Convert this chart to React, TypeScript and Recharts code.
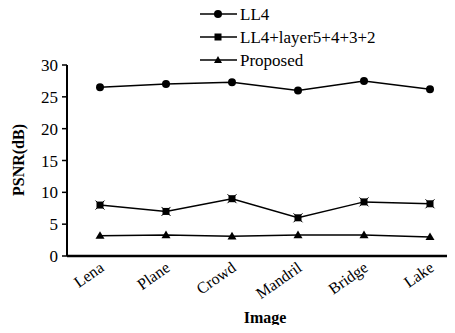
import React from 'react';
import { LineChart, Line, XAxis, YAxis } from 'recharts';

const images = ['Lena', 'Plane', 'Crowd', 'Mandril', 'Bridge', 'Lake'];
const ll4 = [26.5, 27.0, 27.3, 26.0, 27.5, 26.2];
const ll4Layers = [8.0, 7.0, 9.0, 6.0, 8.5, 8.2];
const proposed = [3.2, 3.3, 3.1, 3.3, 3.3, 3.0];
const yTicks = [0, 5, 10, 15, 20, 25, 30];
const seriesNames = ['LL4', 'LL4+layer5+4+3+2', 'Proposed'];

const data = images.map((name, i) => ({
  name,
  ll4: ll4[i],
  layers: ll4Layers[i],
  proposed: proposed[i],
}));

const FONT = 'Liberation Serif';

const CircleDot = (p: any) => {
  if (p.cx == null || p.cy == null) return null;
  return <circle key={p.key} cx={p.cx} cy={p.cy} r={4} fill="#000" />;
};
const SquareDot = (p: any) => {
  if (p.cx == null || p.cy == null) return null;
  const s = 3.5;
  return (
    <g key={p.key}>
      <rect x={p.cx - s} y={p.cy - s} width={s * 2} height={s * 2} fill="#000" />
      <path d={`M${p.cx - s - 1},${p.cy - s - 1}L${p.cx + s + 1},${p.cy + s + 1}M${p.cx + s + 1},${p.cy - s - 1}L${p.cx - s - 1},${p.cy + s + 1}`} stroke="#000" strokeWidth={1} />
    </g>
  );
};
const TriDot = (p: any) => {
  if (p.cx == null || p.cy == null) return null;
  const s = 4.5;
  return (
    <path
      key={p.key}
      d={`M${p.cx},${p.cy - s}L${p.cx + s},${p.cy + s * 0.7}L${p.cx - s},${p.cy + s * 0.7}Z`}
      fill="#000"
    />
  );
};

const XTick = (props: any) => {
  const { x, y, payload } = props;
  const ax = x + 5;
  const ay = y + 14;
  return (
    <text
      x={ax}
      y={ay}
      transform={`rotate(-35, ${ax}, ${ay})`}
      textAnchor="end"
      fontFamily={FONT}
      fontSize={16}
      fill="#000"
    >
      {payload.value}
    </text>
  );
};

const YTick = (props: any) => {
  const { x, y, payload } = props;
  return (
    <text x={x - 2} y={y + 6} textAnchor="end" fontFamily={FONT} fontSize={17} fill="#000">
      {payload.value}
    </text>
  );
};

const Overlay = () => {
  const markers = [
    <circle cx={18} cy={0} r={4} fill="#000" />,
    <rect x={14.5} y={-3.5} width={7} height={7} fill="#000" />,
    <path d="M18,-4L22,3L14,3Z" fill="#000" />,
  ];
  return (
    <svg width={455} height={333} style={{ position: 'absolute', left: 0, top: 0, pointerEvents: 'none' }}>
      {seriesNames.map((n, i) => (
        <g key={n} transform={`translate(200, ${14 + i * 23})`}>
          <line x1={0} x2={37} y1={0} y2={0} stroke="#000" strokeWidth={1.5} />
          {markers[i]}
          <text x={40} y={6} fontFamily={FONT} fontSize={17} fill="#000">
            {n}
          </text>
        </g>
      ))}
      <text x={265} y={323} textAnchor="middle" fontFamily={FONT} fontSize={16} fontWeight="bold" fill="#000">
        Image
      </text>
      <text x={24} y={160} transform="rotate(-90, 24, 160)" textAnchor="middle" fontFamily={FONT} fontSize={16} fontWeight="bold" fill="#000">
        PSNR(dB)
      </text>
    </svg>
  );
};

export default function App() {
  return (
    <div style={{ margin: -8, width: 455, height: 333, overflow: 'hidden', position: 'relative', background: '#fff' }}>
      <LineChart
        width={470}
        height={333}
        data={data}
        margin={{ top: 65, right: 7, bottom: 0, left: 0 }}
      >
        <XAxis
          dataKey="name"
          height={77}
          padding={{ left: 33, right: 33 }}
          axisLine={{ stroke: '#000', strokeWidth: 2.5 }}
          tickLine={false}
          tickSize={0}
          tickMargin={0}
          tick={<XTick />}
          interval={0}
        />
        <YAxis
          width={67}
          domain={[0, 30]}
          ticks={yTicks}
          interval={0}
          axisLine={{ stroke: '#000', strokeWidth: 2 }}
          tickLine={{ stroke: '#000', strokeWidth: 1.5 }}
          tickSize={5}
          tick={<YTick />}
        />
        <Line type="linear" dataKey="ll4" name={seriesNames[0]} stroke="#000" strokeWidth={1.5} dot={<CircleDot />} activeDot={false} isAnimationActive={false} />
        <Line type="linear" dataKey="layers" name={seriesNames[1]} stroke="#000" strokeWidth={1.5} dot={<SquareDot />} activeDot={false} isAnimationActive={false} />
        <Line type="linear" dataKey="proposed" name={seriesNames[2]} stroke="#000" strokeWidth={1.5} dot={<TriDot />} activeDot={false} isAnimationActive={false} />
      </LineChart>
      <Overlay />
    </div>
  );
}
